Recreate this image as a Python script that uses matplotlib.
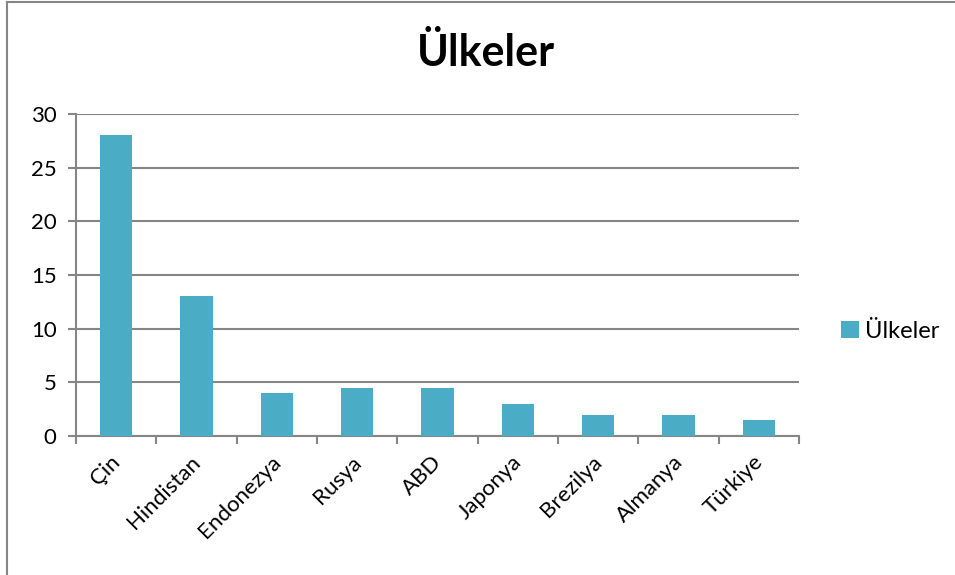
import matplotlib
matplotlib.use("Agg")
import matplotlib.pyplot as plt
from matplotlib.lines import Line2D
from matplotlib.patches import Patch
from matplotlib.transforms import ScaledTranslation

categories = ["Çin", "Hindistan", "Endonezya", "Rusya", "ABD", "Japonya", "Brezilya", "Almanya", "Türkiye"]
values = [28, 13, 4, 4.5, 4.5, 3, 2, 2, 1.5]
series_name = "Ülkeler"
title = "Ülkeler"
yticks = [0, 5, 10, 15, 20, 25, 30]

plt.rcParams['font.family'] = ['Lato', 'DejaVu Sans']

W, H = 955, 575
fig = plt.figure(figsize=(W / 100, H / 100), dpi=100)
ax = fig.add_axes([76 / W, 1 - 436 / H, (799 - 76) / W, (436 - 114) / H])

bar_color = "#4BACC6"
grid_color = "#868686"
x = list(range(len(categories)))
ax.bar(x, values, width=0.4, color=bar_color, zorder=3)
ax.set_xlim(-0.5, len(categories) - 0.5)
ax.set_ylim(0, 30)
ax.set_yticks(yticks)
ax.set_yticklabels([str(v) for v in yticks], fontsize=16)
ax.yaxis.grid(True, color=grid_color, linewidth=1.5, zorder=0)
ax.set_axisbelow(True)

# category labels, rotated, anchored slightly left/below the category centre
ax.set_xticks(x)
ax.set_xticklabels([])
offset = ScaledTranslation(-6 / 100, -16 / 100, fig.dpi_scale_trans)
for xi, cat in zip(x, categories):
    ax.text(xi, 0, cat, transform=ax.get_xaxis_transform() + offset, rotation=45,
            ha="right", va="top", rotation_mode="anchor", fontsize=16)

# category boundary ticks
ax.set_xticks([i - 0.5 for i in range(len(categories) + 1)], minor=True)
ax.tick_params(axis="x", which="major", length=0)
ax.tick_params(axis="x", which="minor", length=6, width=1.5, color=grid_color, direction="out")
ax.tick_params(axis="y", which="major", length=6, width=1.5, color=grid_color, direction="out", pad=8)

for s in ["top", "right"]:
    ax.spines[s].set_visible(False)
for s in ["left", "bottom"]:
    ax.spines[s].set_color(grid_color)
    ax.spines[s].set_linewidth(1.5)

fig.text(486 / W, 1 - 53 / H, title, ha="center", va="center", fontsize=31, fontweight="bold")

handles = [Patch(facecolor=bar_color, edgecolor="none", label=series_name)]
fig.legend(handles=handles, loc="center left", bbox_to_anchor=(841 / W, 1 - 331 / H),
           frameon=False, fontsize=17, handlelength=0.75, handleheight=0.75, handletextpad=0.25,
           borderpad=0, borderaxespad=0)

# outer chart border (left and top visible)
fig.add_artist(Line2D([7 / W, 7 / W], [0, 1 - 1.5 / H], transform=fig.transFigure, color="#868686", linewidth=1.5))
fig.add_artist(Line2D([7 / W, 1], [1 - 1.5 / H, 1 - 1.5 / H], transform=fig.transFigure, color="#868686", linewidth=1.5))

fig.savefig("out.png", dpi=100, facecolor="white")
